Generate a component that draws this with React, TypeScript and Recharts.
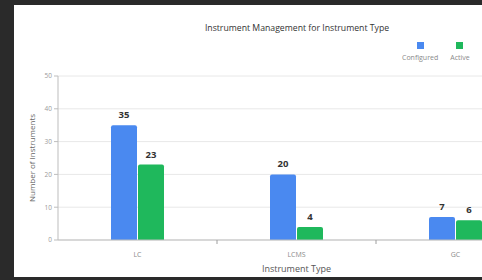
import { BarChart, Bar, XAxis, YAxis, CartesianGrid, Legend, LabelList } from "recharts";

const categories = ["LC", "LCMS", "GC"];
const configured = [35, 20, 7];
const active = [23, 4, 6];
const yTicks = [0, 10, 20, 30, 40, 50];

const BLUE = "#4a89f0";
const GREEN = "#1fb85c";
const FONT = "'Open Sans', sans-serif";
const TICK_GAP = 12;

const data = categories.map((name, i) => ({
  name,
  configured: configured[i],
  active: active[i],
}));

function LegendBox() {
  const items = [
    { label: "Configured", color: BLUE },
    { label: "Active", color: GREEN },
  ];
  return (
    <div style={{ display: "flex", gap: 12, fontFamily: FONT }}>
      {items.map((it) => (
        <div key={it.label} style={{ display: "flex", flexDirection: "column", alignItems: "center" }}>
          <div style={{ width: 7, height: 7, background: it.color }} />
          <div style={{ fontSize: 7, color: "#8a8a8a", marginTop: 4 }}>{it.label}</div>
        </div>
      ))}
    </div>
  );
}

// category label plus a small tick mark at the right edge of the band
function CategoryTick(props: any) {
  const { x, y, payload, index } = props;
  const edge = payload.coordinate + (payload.offset || 0);
  const axisY = y - TICK_GAP;
  return (
    <g>
      {index < categories.length - 1 && (
        <line x1={edge} x2={edge} y1={axisY} y2={axisY + 4} stroke="#9e9e9e" />
      )}
      <text x={x} y={y} dy={5} textAnchor="middle" fontSize={7} fill="#8a8a8a" fontFamily={FONT}>
        {payload.value}
      </text>
    </g>
  );
}

export default function App() {
  return (
    <div style={{ position: "fixed", left: 0, top: 0, width: 482, height: 280, background: "#2a2a2a", overflow: "hidden" }}>
      <div style={{ position: "absolute", left: 14, top: 5, width: 600, height: 272, background: "#fff" }}>
        <div
          style={{
            position: "absolute",
            left: 0,
            width: 566,
            top: 17,
            textAlign: "center",
            fontFamily: FONT,
            fontSize: 8.7,
            color: "#333",
          }}
        >
          Instrument Management for Instrument Type
        </div>
        <BarChart
          width={566}
          height={272}
          data={data}
          margin={{ top: 51, right: 45, left: 14, bottom: 5 }}
          barSize={26}
          barGap={1}
        >
          <CartesianGrid vertical={false} stroke="#e8e8e8" />
          <XAxis
            dataKey="name"
            height={32}
            tick={<CategoryTick />}
            tickLine={false}
            tickSize={0}
            tickMargin={TICK_GAP}
            axisLine={{ stroke: "#bdbdbd" }}
            label={{ value: "Instrument Type", position: "insideBottom", offset: 0, fontSize: 9, fill: "#555", fontFamily: FONT }}
          />
          <YAxis
            width={30}
            domain={[0, 50]}
            ticks={yTicks}
            tick={{ fontSize: 6.5, fill: "#9a9a9a", fontFamily: FONT }}
            tickLine={{ stroke: "#bdbdbd" }}
            tickSize={4}
            axisLine={{ stroke: "#bdbdbd" }}
            label={{
              value: "Number of Instruments",
              angle: -90,
              position: "insideLeft",
              offset: 4,
              style: { textAnchor: "middle" },
              fontSize: 8,
              fill: "#666",
              fontFamily: FONT,
            }}
          />
          <Legend
            verticalAlign="top"
            align="right"
            content={() => <LegendBox />}
            wrapperStyle={{ position: "absolute", top: 37, left: 388, width: 120, height: 20 }}
          />
          <Bar dataKey="configured" name="Configured" fill={BLUE} radius={[2, 2, 0, 0]} isAnimationActive={false}>
            <LabelList dataKey="configured" position="top" offset={7} style={{ fontSize: 9.5, fontWeight: 700, fill: "#333", fontFamily: FONT }} />
          </Bar>
          <Bar dataKey="active" name="Active" fill={GREEN} radius={[2, 2, 0, 0]} isAnimationActive={false}>
            <LabelList dataKey="active" position="top" offset={7} style={{ fontSize: 9.5, fontWeight: 700, fill: "#333", fontFamily: FONT }} />
          </Bar>
        </BarChart>
      </div>
    </div>
  );
}
